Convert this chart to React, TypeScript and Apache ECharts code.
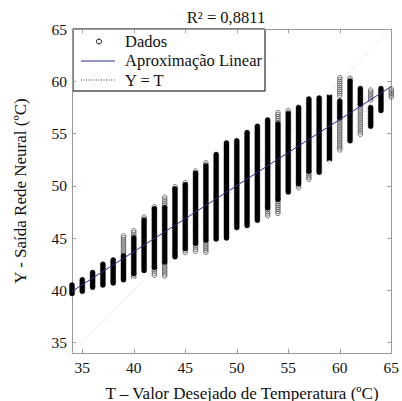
import React, { useEffect, useRef } from "react";
import * as echarts from "echarts";

const FONT = '"Liberation Serif", "Times New Roman", serif';

// [T, low, high] runs of densely packed points
const denseSegments: number[][] = [
  [34, 39.7, 40.5],
  [35, 39.9, 41.0],
  [36, 40.3, 41.7],
  [37, 40.5, 42.5],
  [38, 40.7, 42.9],
  [39, 41.0, 43.3],
  [40, 41.6, 45.0],
  [41, 41.9, 46.7],
  [42, 42.2, 47.8],
  [43, 42.7, 47.9],
  [44, 43.2, 49.7],
  [45, 44.0, 50.1],
  [46, 44.5, 51.2],
  [47, 44.8, 51.9],
  [48, 44.9, 53.0],
  [49, 45.0, 54.1],
  [50, 46.0, 54.3],
  [51, 46.2, 55.1],
  [52, 46.7, 55.7],
  [53, 47.9, 56.3],
  [54, 48.7, 55.9],
  [55, 49.4, 56.9],
  [56, 50.2, 57.5],
  [57, 51.4, 58.3],
  [58, 51.3, 58.4],
  [59, 52.4, 58.6],
  [60, 56.5, 58.1],
  [61, 54.3, 60.0],
  [62, 57.8, 59.3],
  [63, 55.7, 57.5],
  [64, 57.2, 59.3],
];

// [T, low, high] runs of sparser (individually visible) points
const sparseSegments: number[][] = [
  [39, 43.3, 45.2],
  [40, 45.0, 45.7],
  [40, 41.1, 41.6],
  [41, 46.7, 47.0],
  [42, 41.3, 42.2],
  [42, 47.8, 48.0],
  [43, 47.9, 48.9],
  [43, 41.3, 42.7],
  [44, 49.7, 49.9],
  [45, 43.6, 44.0],
  [45, 50.1, 50.3],
  [46, 43.7, 44.5],
  [46, 51.2, 51.4],
  [47, 43.6, 44.8],
  [47, 51.9, 52.2],
  [53, 47.0, 47.9],
  [54, 55.9, 57.0],
  [54, 47.3, 48.7],
  [55, 56.9, 57.2],
  [56, 49.8, 50.2],
  [57, 50.6, 51.4],
  [60, 58.6, 60.35],
  [60, 53.35, 56.5],
  [61, 60.0, 60.3],
  [62, 54.8, 57.8],
  [63, 58.1, 59.15],
  [65, 58.45, 59.25],
];

// isolated points [T, Y]
const outliers: number[][] = [
  [40, 40.8],
  [41, 41.3],
  [44, 41.75],
  [55, 48.6],
  [55, 47.8],
  [59, 59.0],
  [59, 52.1],
];

const fitT = [34, 65];
const fitY = [39.9, 59.5];
const identityT = [34, 65];

const title = "R² = 0,8811";
const xTitle = "T – Valor Desejado de Temperatura (ºC)";
const yTitle = "Y - Saída Rede Neural (ºC)";
const legendItems = ["Dados", "Aproximação Linear", "Y = T"];

export default function App() {
  const ref = useRef<HTMLDivElement>(null);
  useEffect(() => {
    if (!ref.current) return;
    const chart = echarts.init(ref.current, null, { renderer: "svg" });
    const frame = "#9a9a9a";
    const axisCommon = (pos: string, showLabel: boolean) => ({
      type: "value",
      min: 34,
      max: 65,
      position: pos,
      axisLine: { show: true, onZero: false, lineStyle: { color: frame, width: 1 } },
      axisTick: { show: true, inside: true, length: 4, lineStyle: { color: frame } },
      axisLabel: {
        show: showLabel,
        showMinLabel: false,
        fontFamily: FONT,
        fontSize: 15.5,
        color: "#111",
        margin: pos === "bottom" ? 6 : 5,
      },
      splitLine: { show: false },
    });
    const columnRender = (dense: boolean) => (params: any, api: any) => {
      const t = api.value(0);
      const lo = api.value(1);
      const hi = api.value(2);
      const p0 = api.coord([t, lo]);
      const p1 = api.coord([t, hi]);
      if (dense) {
        return {
          type: "rect",
          shape: { x: p1[0] - 2.5, y: p1[1] - 2.5, width: 5, height: p0[1] - p1[1] + 5, r: 2.5 },
          style: { fill: "#000", stroke: "#000", lineWidth: 0.4 },
        };
      }
      const children: any[] = [];
      for (let y = p1[1]; y <= p0[1] + 0.01; y += 2) {
        children.push({
          type: "circle",
          shape: { cx: p1[0], cy: y, r: 2.3 },
          style: { fill: "none", stroke: "#555", lineWidth: 0.8 },
        });
      }
      return { type: "group", children };
    };
    chart.setOption({
      animation: false,
      backgroundColor: "#fff",
      grid: { left: 72, top: 29, width: 324, height: 324, containLabel: false },
      xAxis: [axisCommon("bottom", true), axisCommon("top", false)],
      yAxis: [axisCommon("left", true), axisCommon("right", false)],
      series: [
        {
          type: "line",
          data: identityT.map((t) => [t, t]),
          symbol: "none",
          lineStyle: { color: "#c4c4c4", width: 1, type: [1, 2] },
          z: 1,
        },
        {
          type: "custom",
          data: sparseSegments,
          encode: { x: 0, y: [1, 2] },
          renderItem: columnRender(false),
          clip: false,
          z: 2,
        },
        {
          type: "custom",
          data: denseSegments,
          encode: { x: 0, y: [1, 2] },
          renderItem: columnRender(true),
          clip: false,
          z: 3,
        },
        {
          type: "scatter",
          data: outliers,
          symbol: "emptyCircle",
          symbolSize: 5,
          itemStyle: { color: "#fff", borderColor: "#333", borderWidth: 0.8 },
          z: 4,
        },
        {
          type: "line",
          data: fitT.map((t, i) => [t, fitY[i]]),
          symbol: "none",
          lineStyle: { color: "#2b2f86", width: 1 },
          z: 5,
        },
      ],
      graphic: [
        {
          type: "text",
          x: 226,
          y: 17,
          style: { text: title, fontFamily: FONT, fontSize: 16.5, fill: "#111", align: "center", verticalAlign: "middle" },
        },
        {
          type: "text",
          x: 242,
          y: 393,
          style: { text: xTitle, fontFamily: FONT, fontSize: 17, fill: "#111", align: "center", verticalAlign: "middle" },
        },
        {
          type: "text",
          x: 20,
          y: 191,
          rotation: Math.PI / 2,
          style: { text: yTitle, fontFamily: FONT, fontSize: 17, fill: "#111", align: "center", verticalAlign: "middle" },
        },
        {
          type: "group",
          z: 100,
          children: [
            {
              type: "rect",
              shape: { x: 73, y: 29, width: 192, height: 62 },
              style: { fill: "#fff", stroke: "#000", lineWidth: 1 },
            },
            {
              type: "circle",
              shape: { cx: 99, cy: 41.5, r: 2.5 },
              style: { fill: "#fff", stroke: "#000", lineWidth: 1 },
            },
            {
              type: "line",
              shape: { x1: 81, y1: 61, x2: 115, y2: 61 },
              style: { stroke: "#2b2f86", lineWidth: 1.2 },
            },
            {
              type: "line",
              shape: { x1: 81, y1: 80, x2: 115, y2: 80 },
              style: { stroke: "#333", lineWidth: 1, lineDash: [1, 1.5] },
            },
            ...legendItems.map((txt, i) => ({
              type: "text",
              x: 125,
              y: 41.5 + i * 19.3,
              style: { text: txt, fontFamily: FONT, fontSize: 16.5, fill: "#111", verticalAlign: "middle" },
            })),
          ],
        },
      ],
    });
    return () => chart.dispose();
  }, []);
  return (
    <div
      ref={ref}
      style={{ position: "absolute", left: 0, top: 0, width: 402, height: 401 }}
    />
  );
}
